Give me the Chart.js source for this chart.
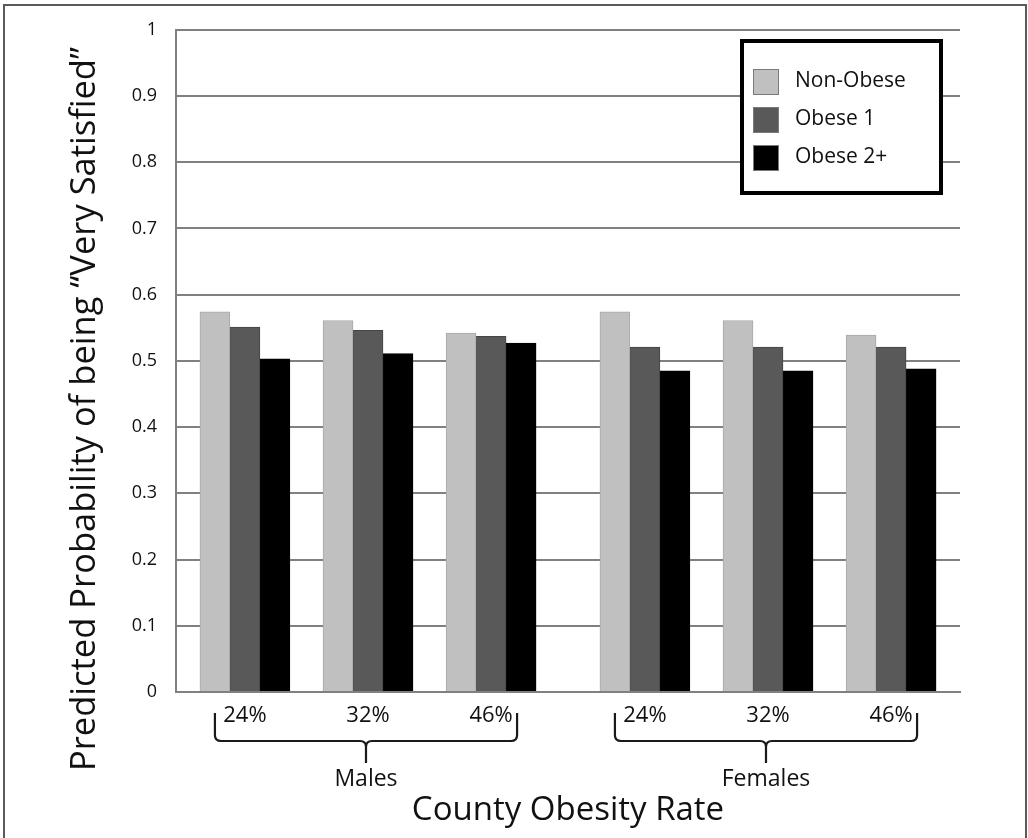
<!DOCTYPE html>
<html><head><meta charset="utf-8">
<script src="https://cdn.jsdelivr.net/npm/chart.js@4.4.1/dist/chart.umd.min.js"></script>
<style>html,body{margin:0;padding:0;background:#fff;}canvas{display:block;}</style>
</head><body>
<canvas id="c" width="1028" height="838"></canvas>
<script>
// ---- data ----
const groupLabels = ['24%', '32%', '46%', '24%', '32%', '46%'];
const groupSlots = [0, 1, 2, 3.25, 4.25, 5.25];
const sexGroups = ['Males', 'Females'];
const sexGroupMembers = [[0, 1, 2], [3, 4, 5]];
const seriesNames = ['Non-Obese', 'Obese 1', 'Obese 2+'];
const nonObese = [0.574, 0.561, 0.542, 0.574, 0.561, 0.539];
const obese1 = [0.551, 0.546, 0.537, 0.521, 0.521, 0.521];
const obese2 = [0.503, 0.511, 0.527, 0.485, 0.485, 0.488];
const yTickValues = [0, 0.1, 0.2, 0.3, 0.4, 0.5, 0.6, 0.7, 0.8, 0.9, 1];
const yTickLabels = ['0', '0.1', '0.2', '0.3', '0.4', '0.5', '0.6', '0.7', '0.8', '0.9', '1'];
const yTitle = 'Predicted Probability of being \u201cVery Satisfied\u201d';
const xTitle = 'County Obesity Rate';

const FONT = "'Open Sans', 'Noto Sans', sans-serif";
const TEXT = '#111111';
const fills = ['#c0c0c0', '#595959', '#000000'];
const borders = ['#a8a8a8', '#454545', '#000000'];

function toPoints(vals) { return vals.map((v, i) => ({ x: groupSlots[i], y: v })); }

const decor = {
  id: 'decor',
  beforeDraw(chart) {
    const ctx = chart.ctx;
    ctx.save();
    ctx.fillStyle = '#ffffff';
    ctx.fillRect(0, 0, chart.width, chart.height);
    ctx.restore();
  },
  afterDraw(chart) {
    const ctx = chart.ctx;
    const xs = chart.scales.x;
    ctx.save();
    // outer frame
    ctx.strokeStyle = '#5a5a5a';
    ctx.lineWidth = 2;
    ctx.beginPath();
    ctx.moveTo(4, 838); ctx.lineTo(4, 5); ctx.lineTo(1026, 5); ctx.lineTo(1026, 838);
    ctx.stroke();

    // y title
    ctx.fillStyle = TEXT;
    ctx.font = '34.5px ' + FONT;
    ctx.textAlign = 'center';
    ctx.textBaseline = 'middle';
    ctx.save();
    ctx.translate(85, 409);
    ctx.rotate(-Math.PI / 2);
    ctx.fillText(yTitle, 0, 0);
    ctx.restore();

    // braces + group names
    ctx.strokeStyle = '#1a1a1a';
    ctx.lineWidth = 2.2;
    sexGroupMembers.forEach((members, gi) => {
      const L = xs.getPixelForValue(groupSlots[members[0]]) - 30;
      const R = xs.getPixelForValue(groupSlots[members[members.length - 1]]) + 26;
      const M = (L + R) / 2;
      const top = 713, hy = 741, bot = 763, r = 6;
      ctx.beginPath();
      ctx.moveTo(L, top);
      ctx.lineTo(L, hy - r);
      ctx.quadraticCurveTo(L, hy, L + r, hy);
      ctx.lineTo(M - r, hy);
      ctx.quadraticCurveTo(M, hy, M, hy + r);
      ctx.lineTo(M, bot);
      ctx.moveTo(M, hy + r);
      ctx.quadraticCurveTo(M, hy, M + r, hy);
      ctx.lineTo(R - r, hy);
      ctx.quadraticCurveTo(R, hy, R, hy - r);
      ctx.lineTo(R, top);
      ctx.stroke();
      ctx.font = '23px ' + FONT;
      ctx.fillStyle = TEXT;
      ctx.textAlign = 'center';
      ctx.textBaseline = 'middle';
      ctx.fillText(sexGroups[gi], M, 779);
    });

    // legend
    const bx = 740, by = 39, bw = 203, bh = 156;
    ctx.fillStyle = '#ffffff';
    ctx.fillRect(bx, by, bw, bh);
    ctx.strokeStyle = '#000000';
    ctx.lineWidth = 4;
    ctx.strokeRect(bx + 2, by + 2, bw - 4, bh - 4);
    ctx.font = '21px ' + FONT;
    ctx.textAlign = 'left';
    ctx.textBaseline = 'middle';
    chart.data.datasets.forEach((ds, i) => {
      const sy = 69 + i * 38;
      ctx.fillStyle = ds.backgroundColor;
      ctx.fillRect(753, sy, 26, 26);
      ctx.strokeStyle = '#7a7a7a';
      ctx.lineWidth = 1;
      ctx.strokeRect(753.5, sy + 0.5, 25, 25);
      ctx.fillStyle = TEXT;
      ctx.fillText(ds.label, 795, sy + 12);
    });
    ctx.restore();
  }
};

new Chart(document.getElementById('c'), {
  type: 'bar',
  data: {
    datasets: [
      { label: seriesNames[0], data: toPoints(nonObese), backgroundColor: fills[0], borderColor: borders[0], borderWidth: 1 },
      { label: seriesNames[1], data: toPoints(obese1), backgroundColor: fills[1], borderColor: borders[1], borderWidth: 1 },
      { label: seriesNames[2], data: toPoints(obese2), backgroundColor: fills[2], borderColor: borders[2], borderWidth: 1 }
    ]
  },
  options: {
    responsive: false,
    animation: false,
    devicePixelRatio: 1,
    barThickness: 30,
    layout: { padding: { left: 0, right: 68, top: 23, bottom: 0 } },
    plugins: { legend: { display: false }, tooltip: { enabled: false }, title: { display: false } },
    scales: {
      x: {
        type: 'linear',
        offset: false,
        min: -0.56,
        max: 5.81,
        grid: { display: false, drawTicks: false },
        border: { display: true, color: '#808080', width: 2 },
        afterBuildTicks(scale) { scale.ticks = groupSlots.map(v => ({ value: v })); },
        afterFit(scale) { scale.height = 146; },
        ticks: {
          autoSkip: false,
          maxRotation: 0,
          padding: 11,
          color: TEXT,
          font: { family: FONT, size: 22 },
          callback: (v, i) => groupLabels[i]
        },
        title: { display: true, text: xTitle, color: TEXT, font: { family: FONT, size: 33 }, padding: { top: 0, bottom: 8 } }
      },
      y: {
        min: 0,
        max: 1,
        grid: { color: '#808080', lineWidth: 2, drawTicks: false },
        border: { display: true, color: '#808080', width: 2 },
        afterBuildTicks(scale) { scale.ticks = yTickValues.map(v => ({ value: v })); },
        afterFit(scale) { scale.width = 176; },
        ticks: {
          padding: 19,
          color: TEXT,
          font: { family: FONT, size: 18 },
          callback: (v, i) => yTickLabels[i]
        }
      }
    }
  },
  plugins: [decor]
});
</script>
</body></html>
